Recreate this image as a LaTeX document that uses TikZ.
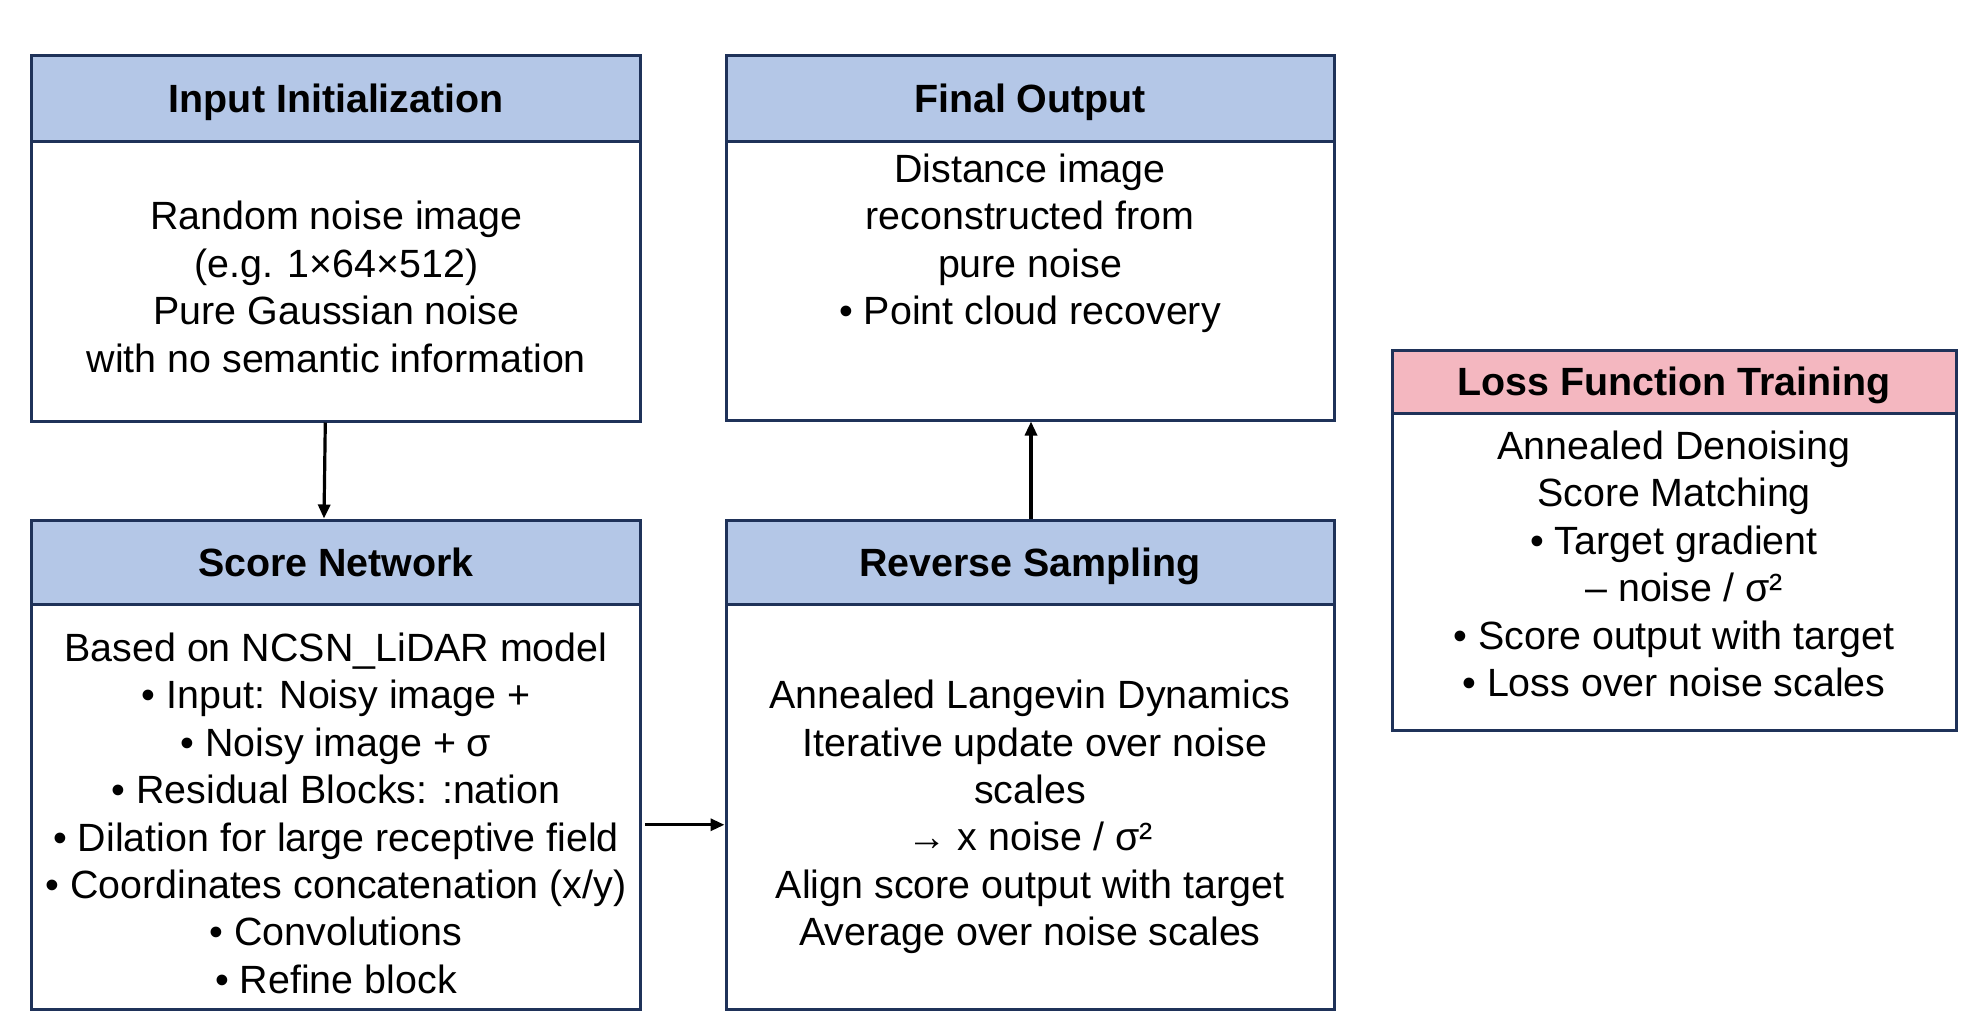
\documentclass[tikz,border=0pt]{standalone}
\usepackage{fontspec}
\setmainfont{Liberation Sans}
\usetikzlibrary{arrows.meta,calc}
\definecolor{bordc}{HTML}{1F3259}
\definecolor{headblue}{HTML}{B4C7E7}
\definecolor{headpink}{HTML}{F4B7C0}
\tikzset{
  panel/.style={draw=bordc, line width=3pt, inner sep=0pt, rectangle},
  hdrtext/.style={font=\bfseries\fontsize{39.4}{46}\selectfont, text height=28.2pt, text depth=0pt},
  hdrblue/.style={panel, fill=headblue, hdrtext},
  hdrpink/.style={panel, fill=headpink, hdrtext},
  bodybox/.style={panel, fill=white},
  bodytext/.style={align=center, inner sep=0pt, font=\fontsize{39.4}{47.4}\selectfont},
  arr/.style={draw=black, line width=3.2pt, -{Triangle[length=14pt,width=12pt]}}
}
\begin{document}
\begin{tikzpicture}[x=1pt,y=-1pt]
\useasboundingbox[fill=white] (0,0) rectangle (1983,1026);

% Input Initialization
\node[hdrblue, minimum width=609pt, minimum height=86pt] (inph) at (336.3,98.6) {Input Initialization};
\node[bodybox, minimum width=609pt, minimum height=279.4pt] (inpb) at (336.3,281.3) {};
\node[bodytext] (inpt) at (336.3,287) {Random noise image\\(e.g. 1×64×512)\\Pure Gaussian noise\\with no semantic information};

% Final Output
\node[hdrblue, minimum width=608pt, minimum height=86pt] (finh) at (1030,98.6) {Final Output};
\node[bodybox, minimum width=608pt, minimum height=278.4pt] (finb) at (1030,280.8) {};
\node[bodytext] (fint) at (1030,243.5) {Distance image\\reconstructed from\\pure noise\\• Point cloud recovery};

% Score Network
\node[hdrblue, minimum width=609pt, minimum height=84.5pt] (scoreh) at (336,562.25) {Score Network};
\node[bodybox, minimum width=609pt, minimum height=404.5pt] (scoreb) at (336,806.75) {};
\node[bodytext] (scoret) at (336,813.3) {Based on NCSN\_LiDAR model\\• Input: Noisy image +\\• Noisy image + σ\\• Residual Blocks: :nation\\• Dilation for large receptive field\\• Coordinates concatenation (x/y)\\• Convolutions\\• Refine block};

% Reverse Sampling
\node[hdrblue, minimum width=608pt, minimum height=84.5pt] (revh) at (1030,562.25) {Reverse Sampling};
\node[bodybox, minimum width=608pt, minimum height=404.5pt] (revb) at (1030,806.75) {};
\node[bodytext] (revt) at (1030,817) {Annealed Langevin Dynamics\\\hspace*{10pt}Iterative update over noise\\scales\\→ x noise / σ²\\Align score output with target\\Average over noise scales};

% Loss Function Training
\node[hdrpink, minimum width=564pt, minimum height=63.5pt] (lossh) at (1674,381.75) {Loss Function Training};
\node[bodybox, minimum width=564pt, minimum height=316.5pt] (lossb) at (1674,571.75) {};
\node[bodytext] (losst) at (1674,564) {Annealed Denoising\\Score Matching\\• Target gradient\\\hspace*{20pt}– noise / σ²\\• Score output with target\\• Loss over noise scales};

% connectors
\draw[arr] ([xshift=-11pt]inpb.south) -- ([xshift=-12pt]scoreh.north);
\draw[arr, shorten <=3pt] ([yshift=-18pt]scoreb.east) -- ([yshift=-18pt]revb.west);
\draw[arr] ([xshift=1pt]revh.north) -- ([xshift=1pt]finb.south);
\end{tikzpicture}
\end{document}
